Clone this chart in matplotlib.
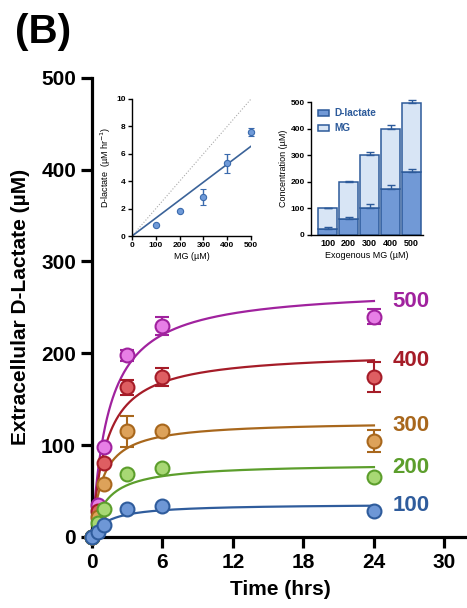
import matplotlib
matplotlib.use("Agg")
import matplotlib.pyplot as plt
import numpy as np

plt.rcParams['font.family'] = ['Liberation Sans', 'DejaVu Sans']

# main panel data (time course, extracellular D-lactate, uM)
times = [0, 0.5, 1, 3, 6, 24]
doses = ['500', '400', '300', '200', '100']
dlac = {
    '500': [0, 35, 98, 198, 230, 240],
    '400': [0, 28, 80, 163, 174, 174],
    '300': [0, 22, 58, 115, 115, 104],
    '200': [0, 15, 30, 69, 75, 65],
    '100': [0, 5, 13, 30, 34, 28],
}
dlac_err = {
    '500': [0, 0, 0, 6, 10, 8],
    '400': [0, 0, 0, 8, 10, 16],
    '300': [0, 0, 0, 17, 0, 12],
    '200': [0, 0, 0, 0, 0, 0],
    '100': [0, 0, 0, 0, 0, 0],
}
# hyperbolic fit parameters: Ymax, K (hrs)
fit_ymax = {'500': 272, '400': 202, '300': 126, '200': 80, '100': 36}
fit_k = {'500': 1.41, '400': 1.2, '300': 0.91, '200': 1.26, '100': 1.45}

# inset 1: rate vs MG
mg_conc = [100, 200, 300, 400, 500]
rate = [0.8, 1.85, 2.85, 5.3, 7.6]
rate_err = [0, 0, 0.6, 0.7, 0.3]
rate_slope = 0.0131

# inset 2: stacked bars
bar_labels = ['100', '200', '300', '400', '500']
bar_dlac = [24, 61, 101, 172, 236]
bar_dlac_err = [6, 7, 15, 15, 11]
bar_total = [100, 199, 300, 399, 497]
bar_total_err = [3, 4, 13, 15, 11]

face = {'500': '#e77fe6', '400': '#de5e62', '300': '#dda25a',
        '200': '#a8d874', '100': '#6e97d6'}
edge = {'500': '#a0229e', '400': '#a51c28', '300': '#a8671c',
        '200': '#5c9e2c', '100': '#2f5c9c'}

fig = plt.figure(figsize=(4.67, 6.08), dpi=100)
ax = fig.add_axes([0.197, 0.117, 0.805, 0.755])

tt = np.linspace(0, 24, 300)
for d in doses:
    ax.plot(tt, fit_ymax[d] * tt / (fit_k[d] + tt), color=edge[d], lw=1.6,
            zorder=2)
for d in doses:
    ax.errorbar(times, dlac[d], yerr=dlac_err[d], fmt='o', ms=10,
                mfc=face[d], mec=edge[d], mew=1.5, ecolor=edge[d],
                elinewidth=1.5, capsize=5, capthick=1.5, clip_on=False,
                zorder=3)
    ax.text(25.6, fit_ymax[d] * 24 / (fit_k[d] + 24), d, color=edge[d],
            fontsize=16, fontweight='bold', va='center', ha='left')

ax.set_xlim(0, 32)
ax.set_ylim(0, 500)
ax.set_xticks([0, 6, 12, 18, 24, 30])
ax.set_yticks([0, 100, 200, 300, 400, 500])
for s in ['top', 'right']:
    ax.spines[s].set_visible(False)
for s in ['left', 'bottom']:
    ax.spines[s].set_linewidth(2.3)
ax.tick_params(width=2.3, length=8, labelsize=15)
for lab in ax.get_xticklabels() + ax.get_yticklabels():
    lab.set_fontweight('bold')
ax.set_xlabel('Time (hrs)', fontsize=15, fontweight='bold', labelpad=6)
ax.set_ylabel('Extracellular D-Lactate (µM)', fontsize=15, fontweight='bold',
              labelpad=8)

fig.text(0.032, 0.948, '(B)', fontsize=29, fontweight='bold', va='center')

# inset 1
ax1 = fig.add_axes([0.2827, 0.6118, 0.2548, 0.2254])
ax1.plot([0, 500], [0, 10], ls=':', color='#aaaaaa', lw=0.8)
ax1.plot([0, 500], [0, rate_slope * 500], color='#3b6399', lw=1.2)
ax1.errorbar(mg_conc, rate, yerr=rate_err, fmt='o', ms=4.5, mfc='#6f9ad8',
             mec='#3a6aad', mew=0.8, ecolor='#3a6aad', elinewidth=1,
             capsize=2.5, capthick=1, clip_on=False)
ax1.set_xlim(0, 500)
ax1.set_ylim(0, 10)
ax1.set_xticks([0, 100, 200, 300, 400, 500])
ax1.set_yticks([0, 2, 4, 6, 8, 10])
for s in ['top', 'right']:
    ax1.spines[s].set_visible(False)
for s in ['left', 'bottom']:
    ax1.spines[s].set_linewidth(1)
ax1.tick_params(width=1, length=3, labelsize=6, pad=1.5)
for lab in ax1.get_xticklabels() + ax1.get_yticklabels():
    lab.set_fontweight('bold')
ax1.set_xlabel('MG (µM)', fontsize=6.5, labelpad=2)
ax1.set_ylabel('D-lactate  (µM hr$^{-1}$)', fontsize=6.5, labelpad=2)

# inset 2
ax2 = fig.add_axes([0.666, 0.6135, 0.24, 0.2187])
x = np.arange(len(bar_labels))
mg_part = [t - d for t, d in zip(bar_total, bar_dlac)]
ax2.bar(x, bar_dlac, 0.9, color='#7199d6', edgecolor='#2c5a9a', lw=1.1,
        label='D-lactate')
ax2.bar(x, mg_part, 0.9, bottom=bar_dlac, color='#d8e5f5',
        edgecolor='#2c5a9a', lw=1.1, label='MG')
ax2.errorbar(x, bar_dlac, yerr=[[0] * 5, bar_dlac_err], fmt='none',
             ecolor='#2c5a9a', elinewidth=1, capsize=3, capthick=1)
ax2.errorbar(x, bar_total, yerr=[[0] * 5, bar_total_err], fmt='none',
             ecolor='#2c5a9a', elinewidth=1, capsize=3, capthick=1,
             clip_on=False)
ax2.set_xlim(-0.8, 4.55)
ax2.set_ylim(0, 500)
ax2.set_xticks(x)
ax2.set_xticklabels(bar_labels)
ax2.set_yticks([0, 100, 200, 300, 400, 500])
for s in ['top', 'right']:
    ax2.spines[s].set_visible(False)
for s in ['left', 'bottom']:
    ax2.spines[s].set_linewidth(1)
ax2.tick_params(axis='y', width=1, length=3, labelsize=6, pad=1.5)
ax2.tick_params(axis='x', length=0, labelsize=6.5, pad=3)
for lab in ax2.get_xticklabels() + ax2.get_yticklabels():
    lab.set_fontweight('bold')
ax2.set_xlabel('Exogenous MG (µM)', fontsize=6.5, labelpad=2)
ax2.set_ylabel('Concentration (µM)', fontsize=6.5, labelpad=2)
leg = ax2.legend(loc='upper left', frameon=False, fontsize=7.2,
                 handlelength=1.1, handleheight=0.55, handletextpad=0.5,
                 labelspacing=0.5, borderaxespad=0.1,
                 bbox_to_anchor=(0.02, 0.99))
for t in leg.get_texts():
    t.set_color('#2c5a9a')
    t.set_fontweight('bold')

fig.savefig('out.png', dpi=100)
